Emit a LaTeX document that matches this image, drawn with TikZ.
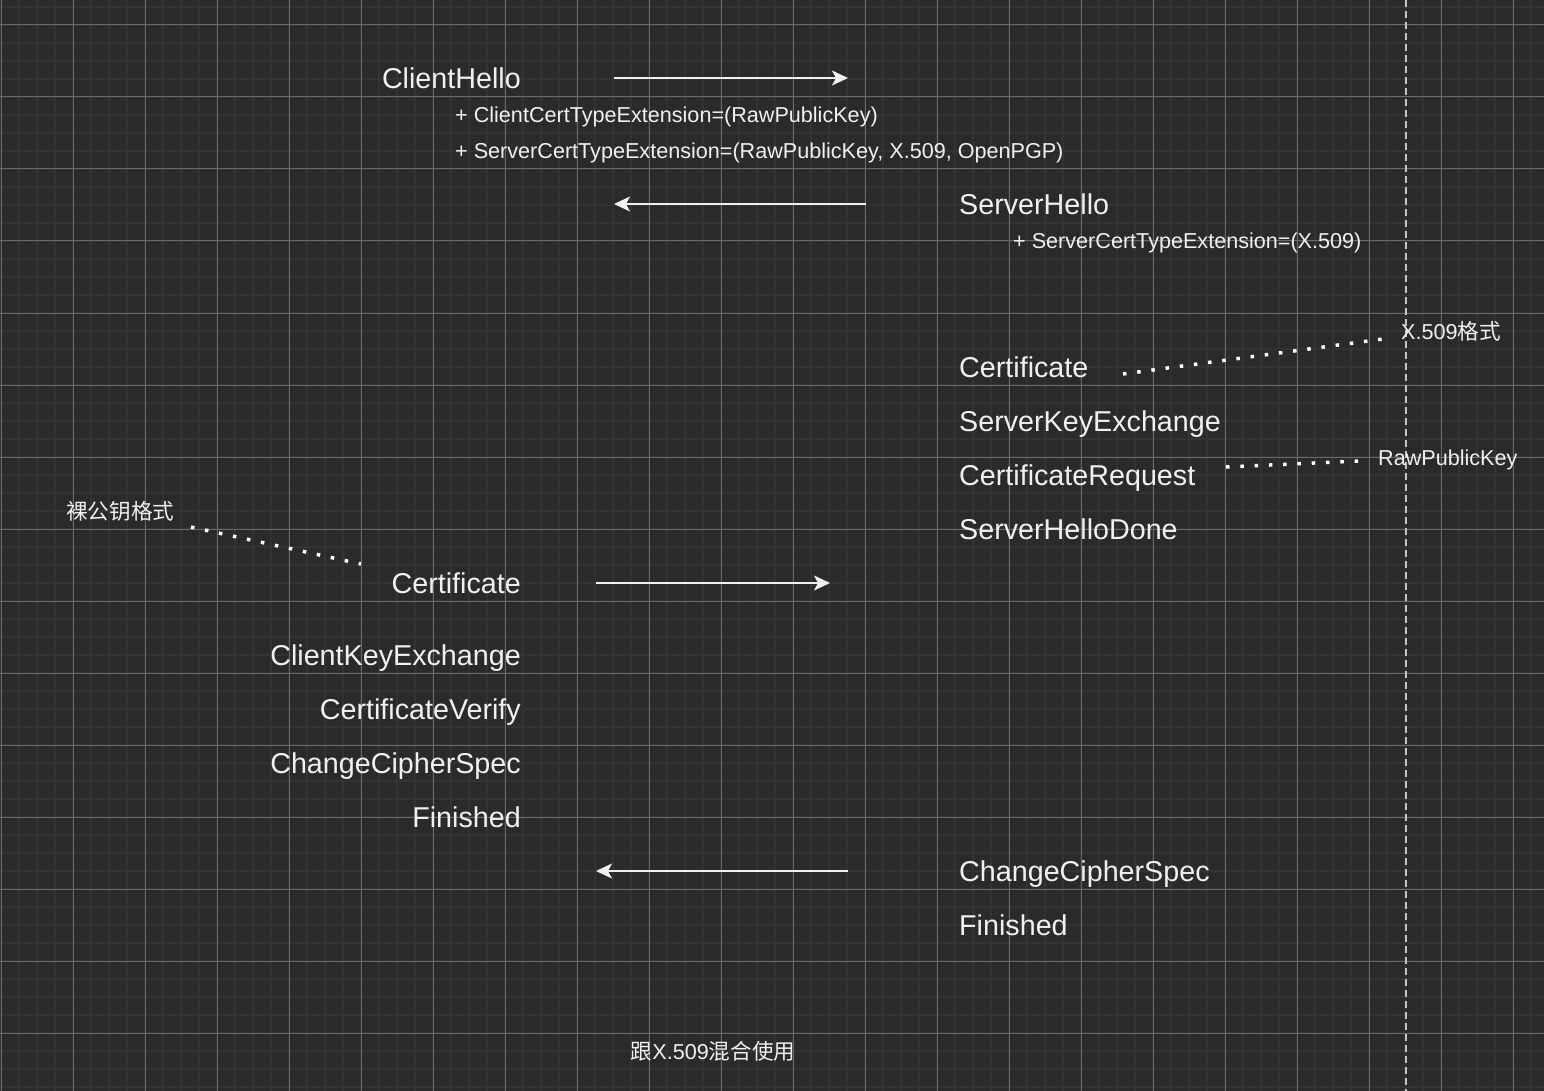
\documentclass[tikz,border=0pt]{standalone}
\usepackage{fontspec}
\setmainfont{Liberation Sans}
\newfontfamily\cjkfont{Noto Sans CJK SC}
\usetikzlibrary{arrows.meta}

\definecolor{canvas}{HTML}{2A2A2A}
\definecolor{gridminor}{HTML}{333333}
\definecolor{gridmajor}{HTML}{6A6A6A}
\definecolor{ink}{HTML}{F0F0F0}
\definecolor{guide}{HTML}{C4C4C4}

\newcommand\msgsize{\fontsize{28.7}{34}\selectfont}
\newcommand\notesize{\fontsize{21.6}{26}\selectfont}

\tikzset{
  minorline/.style={gridminor, line width=2.4pt},
  majorline/.style={gridmajor, line width=1pt},
  msg/.style={text=ink, inner sep=0pt, font=\msgsize},
  note/.style={text=ink, inner sep=0pt, font=\notesize},
  flow/.style={ink, line width=2pt, -{Stealth[length=16pt, width=15pt, inset=4pt]}},
  pointer/.style={white, line width=3.5pt, dash pattern=on 3.5pt off 10.8pt},
  lane/.style={guide, line width=2pt, dash pattern=on 7pt off 4pt},
}

\begin{document}
\begin{tikzpicture}[x=1pt, y=-1pt]
\useasboundingbox (0,0) rectangle (1544,1091);
\fill[canvas] (0,0) rectangle (1544,1091);

% background grid
\foreach \x in {1,19,...,1543} \draw[minorline] (\x,0) -- (\x,1091);
\foreach \y in {7,25,...,1090} \draw[minorline] (0,\y) -- (1544,\y);
\foreach \x in {1,73,...,1543} \draw[majorline] (\x,0) -- (\x,1091);
\foreach \y in {25,97,...,1090} \draw[majorline] (0,\y) -- (1544,\y);

% vertical dashed guide
\coordinate (laneTop) at (1406,0);
\coordinate (laneBottom) at (1406,1091);
\draw[lane] (laneTop) -- (laneBottom);

% client side messages
\node[msg, anchor=base east] (chello) at (521,89) {ClientHello};
\node[note, anchor=base west] (cext) at (455,123) {+ ClientCertTypeExtension=(RawPublicKey)};
\node[note, anchor=base west] (sextlist) at (455,159) {+ ServerCertTypeExtension=(RawPublicKey, X.509, OpenPGP)};

\node[msg, anchor=base east] (ccert) at (521,593) {Certificate};
\node[msg, anchor=base east] (ckex) at (521,665) {ClientKeyExchange};
\node[msg, anchor=base east] (cverify) at (521,719) {CertificateVerify};
\node[msg, anchor=base east] (cccs) at (521,773) {ChangeCipherSpec};
\node[msg, anchor=base east] (cfin) at (521,827) {Finished};

% server side messages
\node[msg, anchor=base west] (shello) at (959,215) {ServerHello};
\node[note, anchor=base west] (sext) at (1013,249) {+ ServerCertTypeExtension=(X.509)};
\node[msg, anchor=base west] (scert) at (959,377) {Certificate};
\node[msg, anchor=base west] (skex) at (959,431) {ServerKeyExchange};
\node[msg, anchor=base west] (sreq) at (959,485) {CertificateRequest};
\node[msg, anchor=base west] (sdone) at (959,539) {ServerHelloDone};
\node[msg, anchor=base west] (sccs) at (959,881) {ChangeCipherSpec};
\node[msg, anchor=base west] (sfin) at (959,935) {Finished};

% annotations
\node[note, anchor=base west] (x509lbl) at (1401,339) {X.509{\cjkfont 格式}};
\node[note, anchor=base west] (rpklbl) at (1378,465) {RawPublicKey};
\node[note, anchor=base west] (barelbl) at (66,519) {\cjkfont 裸公钥格式};
\node[note, anchor=base] (caption) at (713,1059) {{\cjkfont 跟}X.509{\cjkfont 混合使用}};

% flight arrows
\coordinate (f1a) at (614,78);  \coordinate (f1b) at (848,78);
\coordinate (f2a) at (866,204); \coordinate (f2b) at (614,204);
\coordinate (f3a) at (596,583); \coordinate (f3b) at (830,583);
\coordinate (f4a) at (848,871); \coordinate (f4b) at (596,871);
\draw[flow] (f1a) -- (f1b);
\draw[flow] (f2a) -- (f2b);
\draw[flow] (f3a) -- (f3b);
\draw[flow] (f4a) -- (f4b);

% dotted pointers to the annotations
\coordinate (p1a) at (1123,374); \coordinate (p1b) at (1383,339);
\coordinate (p2a) at (1226,467); \coordinate (p2b) at (1358,461);
\coordinate (p3a) at (191,527);  \coordinate (p3b) at (361,564);
\draw[pointer] (p1a) -- (p1b);
\draw[pointer] (p2a) -- (p2b);
\draw[pointer] (p3a) -- (p3b);
\end{tikzpicture}
\end{document}
